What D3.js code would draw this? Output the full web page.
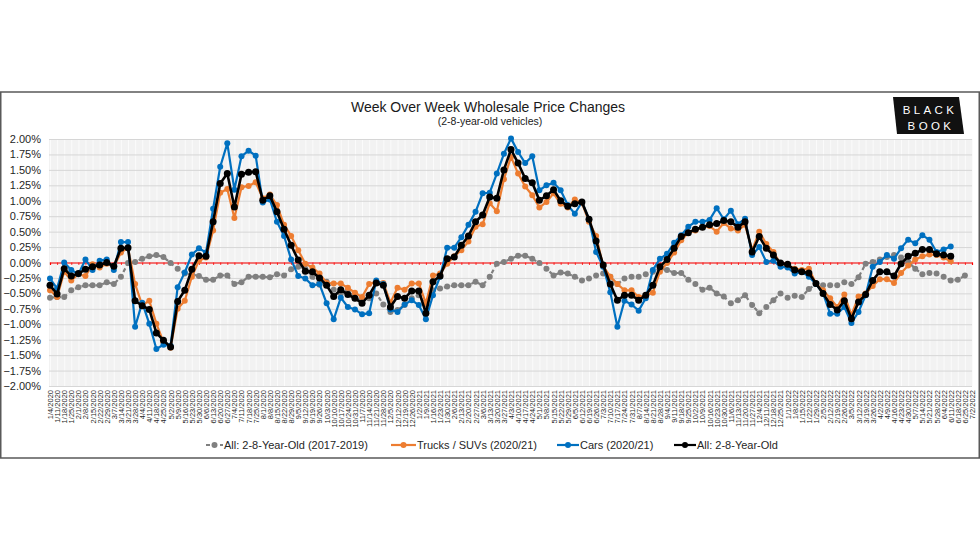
<!DOCTYPE html>
<html>
<head>
<meta charset="utf-8">
<script src="https://cdn.jsdelivr.net/npm/d3@7"></script>
<style>
html,body{margin:0;padding:0;background:#fff;}
svg{display:block;font-family:"Liberation Sans",Arial,sans-serif;}
</style>
</head>
<body>
<svg id="chart" width="980" height="552"></svg>
<script>
const categories = [
"1/4/2020","1/11/2020","1/18/2020","1/25/2020","2/1/2020","2/8/2020","2/15/2020","2/22/2020","2/29/2020","3/7/2020",
"3/14/2020","3/21/2020","3/28/2020","4/4/2020","4/11/2020","4/18/2020","4/25/2020","5/2/2020","5/9/2020","5/16/2020",
"5/23/2020","5/30/2020","6/6/2020","6/13/2020","6/20/2020","6/27/2020","7/4/2020","7/11/2020","7/18/2020","7/25/2020",
"8/1/2020","8/8/2020","8/15/2020","8/22/2020","8/29/2020","9/5/2020","9/12/2020","9/19/2020","9/26/2020","10/3/2020",
"10/10/2020","10/17/2020","10/24/2020","10/31/2020","11/7/2020","11/14/2020","11/21/2020","11/28/2020","12/5/2020","12/12/2020",
"12/19/2020","12/26/2020","1/2/2021","1/9/2021","1/16/2021","1/23/2021","1/30/2021","2/6/2021","2/13/2021","2/20/2021",
"2/27/2021","3/6/2021","3/13/2021","3/20/2021","3/27/2021","4/3/2021","4/10/2021","4/17/2021","4/24/2021","5/1/2021",
"5/8/2021","5/15/2021","5/22/2021","5/29/2021","6/5/2021","6/12/2021","6/19/2021","6/26/2021","7/3/2021","7/10/2021",
"7/17/2021","7/24/2021","7/31/2021","8/7/2021","8/14/2021","8/21/2021","8/28/2021","9/4/2021","9/11/2021","9/18/2021",
"9/25/2021","10/2/2021","10/9/2021","10/16/2021","10/23/2021","10/30/2021","11/6/2021","11/13/2021","11/20/2021","11/27/2021",
"12/4/2021","12/11/2021","12/18/2021","12/25/2021","1/1/2022","1/8/2022","1/15/2022","1/22/2022","1/29/2022","2/5/2022",
"2/12/2022","2/19/2022","2/26/2022","3/5/2022","3/12/2022","3/19/2022","3/26/2022","4/2/2022","4/9/2022","4/16/2022",
"4/23/2022","4/30/2022","5/7/2022","5/14/2022","5/21/2022","5/28/2022","6/4/2022","6/11/2022","6/18/2022","6/25/2022",
"7/2/2022"
];

const allPrior = [
-0.57,-0.56,-0.56,-0.45,-0.40,-0.37,-0.37,-0.37,-0.32,-0.35,-0.23,-0.01,0.01,0.06,0.10,0.12,0.09,-0.01,-0.10,-0.18,
-0.19,-0.22,-0.28,-0.28,-0.21,-0.21,-0.35,-0.32,-0.23,-0.23,-0.23,
-0.24,-0.19,-0.21,-0.11,-0.07,-0.10,-0.23,-0.36,-0.31,-0.44,-0.50,-0.45,-0.58,-0.60,-0.58,-0.50,-0.68,-0.80,-0.77,-0.69,
-0.58,-0.53,-0.68,-0.45,-0.42,-0.39,-0.37,-0.37,-0.37,-0.31,-0.37,-0.23,-0.02,
0.01,0.06,0.11,0.11,0.06,-0.01,-0.10,-0.21,-0.16,-0.18,-0.23,-0.29,-0.26,-0.21,-0.18,-0.23,-0.35,-0.26,-0.23,-0.23,
-0.19,-0.15,-0.10,-0.12,-0.17,-0.17,-0.28,-0.35,-0.44,-0.41,-0.50,-0.55,-0.66,-0.61,
-0.53,-0.69,-0.82,-0.72,-0.61,-0.50,-0.57,-0.54,-0.56,-0.43,-0.35,-0.37,-0.37,-0.37,-0.32,-0.35,-0.24,-0.02,0.01,0.05,
0.09,0.12,0.08,0.01,-0.10,-0.19,-0.17,-0.18,-0.23,-0.29,-0.28,-0.21
];

const trucks = [
-0.45,-0.56,-0.15,-0.29,-0.19,-0.22,-0.03,-0.08,-0.02,-0.07,0.16,0.24,-0.35,-0.69,-0.62,-0.99,-1.29,-1.38,-0.75,-0.62,
-0.23,0.03,0.08,0.52,1.13,1.19,0.72,1.22,1.24,1.30,1.04,1.10,
0.93,0.61,0.43,0.20,-0.02,-0.08,-0.18,-0.33,-0.34,-0.34,-0.41,-0.49,-0.56,-0.35,-0.31,-0.33,-0.65,-0.41,-0.44,-0.34,
-0.34,-0.66,-0.21,-0.18,-0.02,0.10,0.20,0.34,0.58,0.62,0.96,0.83,
1.35,1.71,1.44,1.23,1.09,0.89,0.98,1.12,0.95,0.89,1.02,0.96,0.66,0.43,-0.06,-0.23,-0.35,-0.45,-0.45,-0.56,
-0.53,-0.49,-0.15,-0.01,0.16,0.36,0.48,0.52,0.57,0.59,0.50,0.64,0.55,0.52,
0.61,0.20,0.50,0.30,0.17,-0.02,-0.05,-0.10,-0.12,-0.10,-0.34,-0.45,-0.58,-0.72,-0.52,-0.85,-0.55,-0.50,-0.38,-0.27,
-0.27,-0.33,-0.17,-0.05,0.05,0.10,0.13,0.12,0.08,0.02
];

const cars = [
-0.26,-0.42,0.00,-0.12,-0.19,0.05,-0.12,0.03,0.05,-0.12,0.33,0.33,-1.04,-0.65,-0.99,-1.40,-1.33,-1.35,-0.40,-0.16,
0.13,0.23,0.16,0.87,1.55,1.93,1.18,1.72,1.81,1.73,0.97,1.02,
0.66,0.43,0.05,-0.22,-0.26,-0.37,-0.35,-0.66,-0.92,-0.57,-0.72,-0.76,-0.84,-0.82,-0.29,-0.35,-0.76,-0.80,-0.68,-0.61,
-0.69,-0.92,-0.53,-0.23,0.24,0.24,0.41,0.61,0.82,1.12,1.13,1.44,
1.76,2.01,1.79,1.61,1.72,1.17,1.25,1.29,1.17,0.93,0.79,0.98,0.70,0.17,-0.07,-0.48,-1.04,-0.62,-0.68,-0.78,
-0.58,-0.12,0.06,0.14,0.32,0.44,0.58,0.66,0.66,0.69,0.88,0.70,0.84,0.62,
0.71,0.12,0.25,0.01,0.03,-0.07,-0.08,-0.18,-0.15,-0.23,-0.35,-0.50,-0.83,-0.83,-0.72,-0.98,-0.80,-0.53,-0.07,0.01,
0.12,0.06,0.23,0.37,0.31,0.44,0.37,0.17,0.21,0.26
];

const allCurrent = [
-0.37,-0.51,-0.10,-0.22,-0.18,-0.11,-0.07,-0.04,0.00,-0.06,0.23,0.24,-0.62,-0.70,-0.76,-1.14,-1.26,-1.37,-0.63,-0.45,
-0.11,0.11,0.10,0.66,1.28,1.44,0.90,1.43,1.46,1.47,1.01,1.08,
0.82,0.54,0.28,0.04,-0.14,-0.15,-0.25,-0.37,-0.55,-0.44,-0.52,-0.58,-0.66,-0.53,-0.33,-0.37,-0.72,-0.55,-0.58,-0.46,
-0.46,-0.82,-0.31,-0.22,0.06,0.09,0.28,0.43,0.66,0.77,1.06,1.04,
1.50,1.83,1.61,1.36,1.29,1.01,1.08,1.18,1.00,0.91,0.95,0.98,0.70,0.35,-0.04,-0.35,-0.61,-0.53,-0.53,-0.61,
-0.53,-0.37,-0.07,0.05,0.23,0.42,0.48,0.54,0.57,0.61,0.63,0.68,0.66,0.57,
0.66,0.17,0.42,0.23,0.12,-0.01,-0.03,-0.12,-0.15,-0.17,-0.34,-0.50,-0.68,-0.77,-0.62,-0.91,-0.64,-0.52,-0.29,-0.15,
-0.15,-0.22,-0.02,0.10,0.15,0.21,0.21,0.14,0.12,0.10
];

const yTicks = [-2,-1.75,-1.5,-1.25,-1,-0.75,-0.5,-0.25,0,0.25,0.5,0.75,1,1.25,1.5,1.75,2];
const seriesNames = ["All: 2-8-Year-Old (2017-2019)","Trucks / SUVs (2020/21)","Cars (2020/21)","All: 2-8-Year-Old"];
const seriesColors = ["#808080","#ED7D31","#0070C0","#000000"];
const chartTitle = "Week Over Week Wholesale Price Changes";
const chartSubtitle = "(2-8-year-old vehicles)";

const svg = d3.select("#chart");
const pLeft = 50, pRight = 972, pTop = 139, pBottom = 386;

const x = d3.scalePoint().domain(categories).range([pLeft, pRight]);
const y = d3.scaleLinear().domain([-2, 2]).range([pBottom, pTop]);

// frame
svg.append("rect").attr("x", 0.75).attr("y", 92).attr("width", 978.5).attr("height", 366)
  .attr("fill", "#fff").attr("stroke", "#595959").attr("stroke-width", 1.5);

// plot background
svg.append("rect").attr("x", pLeft - 1).attr("y", pTop).attr("width", pRight - pLeft + 1).attr("height", pBottom - pTop)
  .attr("fill", "#f2f2f2");

// vertical category gridlines
svg.append("g").attr("transform", `translate(0,${pBottom})`)
  .call(d3.axisBottom(x).tickSize(-(pBottom - pTop)).tickFormat(""))
  .call(g => g.select(".domain").remove())
  .call(g => g.selectAll(".tick line").attr("stroke", "#fbfbfb").attr("stroke-width", 1));

// horizontal gridlines + labels
svg.append("g").attr("transform", `translate(${pLeft - 1},0)`)
  .call(d3.axisLeft(y).tickValues(yTicks).tickSize(-(pRight - pLeft + 1)).tickPadding(8)
     .tickFormat(d => d3.format(".2f")(d) + "%"))
  .call(g => g.select(".domain").remove())
  .call(g => g.selectAll(".tick line").attr("stroke", "#d6d6d6").attr("stroke-width", 1))
  .call(g => g.selectAll(".tick text").attr("fill", "#1f1f1f").attr("font-size", 11)
     .attr("font-family", "'Liberation Sans',Arial,sans-serif"));

// x labels
svg.append("g").attr("transform", `translate(0,${pBottom})`)
  .call(d3.axisBottom(x).tickSize(0).tickPadding(0))
  .call(g => g.select(".domain").remove())
  .call(g => g.selectAll(".tick text")
     .attr("transform", "translate(0,4) rotate(-90)")
     .attr("text-anchor", "end").attr("dx", 0).attr("dy", "0.33em").attr("x", 0).attr("y", 0)
     .attr("font-size", 7.5).attr("fill", "#262626")
     .attr("font-family", "'Liberation Sans',Arial,sans-serif"));

// red zero line with ticks
svg.append("g").attr("transform", `translate(0,${y(0)})`)
  .call(d3.axisBottom(x).tickSize(2.5).tickFormat(""))
  .call(g => g.select(".domain").attr("stroke", "#FF0000").attr("stroke-width", 1.2))
  .call(g => g.selectAll(".tick line").attr("stroke", "#FF0000").attr("stroke-width", 0.8));

const seriesData = [allPrior, trucks, cars, allCurrent];
const radii = [3, 3, 3, 3.5];
const widths = [2.2, 2.2, 2.2, 2.6];

seriesData.forEach((vals, si) => {
  const pts = vals.map((v, i) => ({c: categories[i], v}));
  const line = d3.line().x(d => x(d.c)).y(d => y(d.v));
  const gS = svg.append("g");
  gS.append("path").datum(pts).attr("d", line).attr("fill", "none")
    .attr("stroke", seriesColors[si]).attr("stroke-width", widths[si])
    .attr("stroke-linejoin", "round")
    .attr("stroke-dasharray", si === 0 ? "4,3" : null);
  gS.selectAll("circle").data(pts).join("circle")
    .attr("cx", d => x(d.c)).attr("cy", d => y(d.v)).attr("r", radii[si])
    .attr("fill", seriesColors[si]);
});

// title
svg.append("text").attr("x", 488).attr("y", 112).attr("text-anchor", "middle")
  .attr("font-size", 14).attr("fill", "#1a1a1a").text(chartTitle);
svg.append("text").attr("x", 490).attr("y", 125).attr("text-anchor", "middle")
  .attr("font-size", 10.5).attr("fill", "#1a1a1a").text(chartSubtitle);

// logo
const logo = svg.append("g");
logo.append("path").attr("d", "M893,97 L959,97 L964,134 L897,134 Z").attr("fill", "#111");
logo.append("text").attr("x", 930).attr("y", 114).attr("text-anchor", "middle")
  .attr("font-size", 11.5).attr("fill", "#fff").attr("letter-spacing", 3.4).text("BLACK");
logo.append("text").attr("x", 931).attr("y", 130).attr("text-anchor", "middle")
  .attr("font-size", 11.5).attr("fill", "#fff").attr("letter-spacing", 3.4).text("BOOK");

// legend
const legendPos = [[206, 224], [391, 417], [557, 580], [674, 697]];
const lg = svg.append("g");
seriesNames.forEach((name, si) => {
  const [x0, tx] = legendPos[si];
  const ly = 445;
  lg.append("line").attr("x1", x0).attr("x2", tx - 1).attr("y1", ly).attr("y2", ly)
    .attr("stroke", seriesColors[si]).attr("stroke-width", 2.2)
    .attr("stroke-dasharray", si === 0 ? "4,3" : null);
  lg.append("circle").attr("cx", (x0 + tx - 1) / 2).attr("cy", ly).attr("r", 3).attr("fill", seriesColors[si]);
  lg.append("text").attr("x", tx).attr("y", ly + 4).attr("font-size", 11).attr("fill", "#262626").text(name);
});
</script>
</body>
</html>
